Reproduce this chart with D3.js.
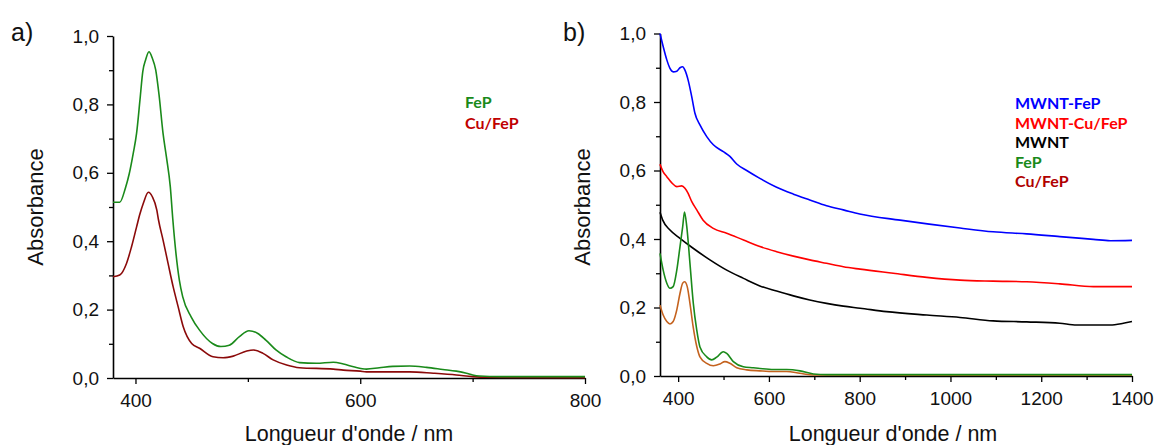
<!DOCTYPE html>
<html>
<head>
<meta charset="utf-8">
<script src="https://cdn.jsdelivr.net/npm/d3@7"></script>
<style>
  body { margin: 0; background: #fff; }
  text { font-family: "Liberation Sans", Arial, sans-serif; }
  .legend { font-family: Lato, "Open Sans", sans-serif; font-weight: bold; }
</style>
</head>
<body>
<svg id="chart" width="1157" height="445"></svg>
<script>
// ---- panel a data: [wavelength nm, absorbance] ----
const aFeP = [[380,0.514],[386,0.514],[391,0.555],[394.5,0.598],[398,0.657],[401,0.716],[404,0.813],[406.5,0.896],[409,0.930],[412,0.954],[415,0.935],[418,0.901],[421,0.827],[424.5,0.716],[427.5,0.647],[431,0.559],[433.2,0.465],[436,0.365],[439,0.287],[442,0.238],[449.5,0.179],[457,0.140],[468.5,0.101],[476,0.092],[483.5,0.096],[492.5,0.121],[501,0.138],[508.5,0.131],[516,0.111],[525,0.082],[534,0.062],[546,0.045],[561,0.043],[576,0.046],[585,0.041],[594,0.033],[605.5,0.026],[617,0.030],[629,0.034],[644,0.035],[659,0.031],[673.5,0.025],[685.5,0.020],[694.5,0.014],[700,0.009],[706,0.006],[724,0.004],[800,0.004]];
const aCuFeP = [[380,0.296],[386,0.301],[392,0.335],[396.5,0.384],[401,0.442],[404,0.480],[407,0.511],[411.5,0.543],[415,0.530],[419,0.491],[420.5,0.462],[424.5,0.404],[429,0.335],[433.5,0.267],[438,0.208],[442.5,0.150],[450,0.101],[457,0.087],[469,0.062],[478,0.059],[487,0.064],[499,0.079],[505,0.082],[513.5,0.072],[522.5,0.053],[534.5,0.038],[546,0.030],[576,0.026],[585,0.023],[600,0.020],[605.5,0.018],[620,0.018],[644,0.018],[665,0.014],[685.5,0.009],[700,0.004],[712,0.002],[800,0.001]];

// ---- panel b data ----
const bMwntFeP = [[360,1.0],[367,0.962],[375,0.923],[382,0.898],[389,0.888],[397,0.890],[404,0.900],[410,0.903],[415,0.893],[422,0.864],[430,0.815],[437,0.767],[448,0.733],[463,0.699],[477.5,0.675],[499.5,0.655],[514,0.641],[529,0.619],[551,0.600],[580,0.577],[617,0.551],[654,0.531],[690,0.514],[727,0.497],[764,0.485],[800,0.473],[889,0.455],[1021,0.432],[1094,0.421],[1168,0.415],[1241,0.407],[1315,0.399],[1352,0.395],[1400,0.396]];
const bMwntCuFeP = [[360,0.618],[367,0.596],[375,0.582],[386,0.564],[397,0.553],[408,0.555],[415,0.548],[422,0.533],[430,0.509],[441,0.485],[455,0.455],[477.5,0.431],[507,0.417],[544,0.397],[580,0.378],[617,0.363],[654,0.350],[690,0.339],[727,0.329],[764,0.319],[801,0.312],[874,0.300],[948,0.288],[1021,0.280],[1094,0.277],[1168,0.275],[1241,0.269],[1315,0.261],[1400,0.261]];
const bMwnt = [[360,0.478],[366,0.455],[382,0.426],[404,0.402],[433,0.373],[470,0.339],[507,0.309],[544,0.285],[580,0.263],[617,0.248],[654,0.234],[690,0.222],[727,0.212],[764,0.204],[801,0.198],[859,0.188],[948,0.178],[1021,0.171],[1094,0.161],[1168,0.158],[1241,0.154],[1278,0.149],[1352,0.149],[1381,0.154],[1400,0.159]];
const bFeP = [[360,0.358],[367,0.309],[375,0.271],[382,0.256],[389,0.261],[397,0.309],[404,0.377],[410,0.436],[414,0.479],[419,0.436],[426,0.329],[433.4,0.212],[441,0.134],[448,0.085],[463,0.056],[474,0.047],[485,0.055],[499.5,0.071],[507,0.066],[521.6,0.042],[543.6,0.027],[565.7,0.024],[580,0.022],[610,0.019],[639,0.019],[668.5,0.015],[698,0.006],[727,0.004],[1400,0.004]];
const bCuFeP = [[360,0.207],[367,0.178],[375,0.159],[382,0.152],[389,0.159],[397,0.193],[404,0.241],[410,0.271],[414,0.275],[420,0.261],[426,0.212],[433,0.144],[441,0.086],[448,0.056],[463,0.037],[477.5,0.030],[492,0.035],[503,0.042],[514,0.037],[529,0.024],[551,0.018],[580,0.015],[610,0.013],[639,0.013],[668,0.008],[698,0.003],[802,0.002],[1400,0.002]];

const yTicks = [0, 0.2, 0.4, 0.6, 0.8, 1.0];
const yMinor = [0.1, 0.3, 0.5, 0.7, 0.9];
const aXTicks = [400, 600, 800];
const aXMinor = [500, 700];
const bXTicks = [400, 600, 800, 1000, 1200, 1400];
const bXMinor = [500, 700, 900, 1100, 1300];

const aLegend = [["FeP", "#1a8a1a"], ["Cu/FeP", "#c00000"]];
const bLegend = [["MWNT-FeP", "#0000ff"], ["MWNT-Cu/FeP", "#ff0000"], ["MWNT", "#000000"], ["FeP", "#1a8a1a"], ["Cu/FeP", "#b00000"]];

const svg = d3.select("#chart");
const fmt = d => d3.format(".1f")(d).replace(".", ",");

function panel(opts) {
  const x = d3.scaleLinear().domain(opts.xDomain).range(opts.xRange);
  const y = d3.scaleLinear().domain([0, 1]).range(opts.yRange);
  const g = svg.append("g");

  // minor ticks first
  g.append("g").attr("transform", `translate(0,${opts.yRange[0]})`)
    .call(d3.axisBottom(x).tickValues(opts.xMinor).tickSize(4).tickFormat(""))
    .call(s => s.select(".domain").remove());
  g.append("g").attr("transform", `translate(${opts.xRange[0]},0)`)
    .call(d3.axisLeft(y).tickValues(yMinor).tickSize(4).tickFormat(""))
    .call(s => s.select(".domain").remove());

  const xa = g.append("g").attr("transform", `translate(0,${opts.yRange[0]})`)
    .call(d3.axisBottom(x).tickValues(opts.xTicks).tickSize(6).tickSizeOuter(0).tickPadding(10).tickFormat(d3.format("d")));
  const ya = g.append("g").attr("transform", `translate(${opts.xRange[0]},0)`)
    .call(d3.axisLeft(y).tickValues(yTicks).tickSize(6).tickSizeOuter(0).tickPadding(8).tickFormat(fmt));
  [xa, ya].forEach(a => {
    a.selectAll("text").attr("font-size", 19).attr("fill", "#111").attr("font-family", "Liberation Sans, Arial, sans-serif");
    a.select(".domain").attr("stroke-width", 1.6);
  });
  g.selectAll(".tick line").attr("stroke-width", 1.3);

  const line = d3.line().x(d => x(d[0])).y(d => y(d[1])).curve(d3.curveMonotoneX);
  opts.series.forEach(([data, color]) => {
    g.append("path").datum(data).attr("d", line)
      .attr("fill", "none").attr("stroke", color).attr("stroke-width", 1.6);
  });

  g.append("text").attr("x", opts.xTitleX).attr("y", 441)
    .attr("text-anchor", "middle").attr("font-size", 21.5).attr("fill", "#111")
    .text("Longueur d'onde / nm");
  g.append("text")
    .attr("transform", `translate(${opts.yTitleX},${opts.yTitleY}) rotate(-90)`)
    .attr("text-anchor", "middle").attr("font-size", 22).attr("fill", "#111")
    .text("Absorbance");
  g.append("text").attr("x", opts.tagX).attr("y", 41).attr("font-size", 25).attr("fill", "#111").text(opts.tag);

  g.selectAll(".legend-item").data(opts.legend).join("text")
    .attr("class", "legend")
    .attr("x", opts.legendX)
    .attr("y", (d, i) => opts.legendY + i * opts.legendStep)
    .attr("font-size", 16)
    .attr("fill", d => d[1])
    .text(d => d[0]);
}

panel({
  xDomain: [380, 800], xRange: [113, 585], yRange: [378, 36],
  xTicks: aXTicks, xMinor: aXMinor,
  series: [[aCuFeP, "#8b0a0a"], [aFeP, "#1a8a1a"]],
  xTitleX: 349, yTitleX: 43, yTitleY: 207, tag: "a)", tagX: 11,
  legend: aLegend, legendX: 465, legendY: 108, legendStep: 20.5
});

panel({
  xDomain: [360, 1400], xRange: [660, 1132], yRange: [376, 33.5],
  xTicks: bXTicks, xMinor: bXMinor,
  series: [[bMwnt, "#000000"], [bMwntCuFeP, "#ff0000"], [bMwntFeP, "#0000ff"], [bCuFeP, "#c4621e"], [bFeP, "#1a8a1a"]],
  xTitleX: 893, yTitleX: 590, yTitleY: 207, tag: "b)", tagX: 563,
  legend: bLegend, legendX: 1015, legendY: 109, legendStep: 19.6
});
</script>
</body>
</html>
